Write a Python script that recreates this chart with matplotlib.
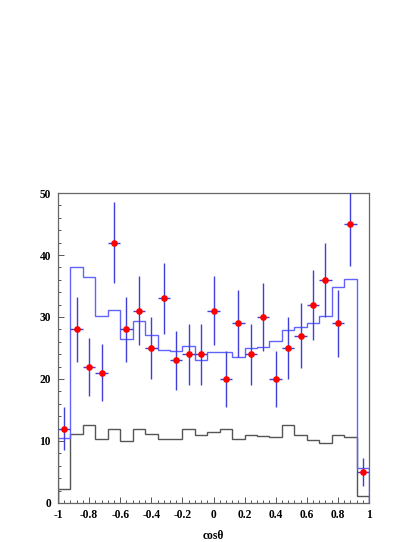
# -*- coding: utf-8 -*-

import numpy as np
import matplotlib
matplotlib.use('Agg')
import matplotlib.pyplot as plt
from matplotlib.ticker import MultipleLocator


# 25 bins of cos(theta) between -1 and 1
EDGES = np.linspace(-1.0, 1.0, 26)

# observed counts (red points)
DATA = [12, 28, 22, 21, 42, 28, 31, 25, 33, 23, 24, 24, 31,
        20, 29, 24, 30, 20, 25, 27, 32, 36, 29, 45, 5]

# blue histogram (total expectation)
MC_TOTAL = [10.5, 38.1, 36.4, 30.1, 31.1, 26.5, 29.4, 27.1, 24.7, 24.5,
            25.4, 23.1, 24.4, 24.4, 23.5, 25.0, 25.1, 26.1, 27.9, 28.4,
            29.1, 30.1, 34.9, 36.1, 5.7]

# grey histogram (background)
MC_BKG = [2.3, 11.2, 12.5, 10.3, 11.9, 9.95, 12.0, 11.1, 10.4, 10.3,
          11.9, 11.0, 11.4, 12.0, 10.3, 10.9, 10.8, 10.7, 12.5, 10.9,
          10.1, 9.6, 10.9, 10.6, 1.1]

X_TICKS = [-1, -0.8, -0.6, -0.4, -0.2, 0, 0.2, 0.4, 0.6, 0.8, 1]
X_TICK_LABELS = ['-1', '-0.8', '-0.6', '-0.4', '-0.2', '0',
                 '0.2', '0.4', '0.6', '0.8', '1']


def show_graph():
    fig = plt.figure(figsize=(4.19, 5.42), dpi=100)
    ax = fig.add_axes([0.1384, 0.0720, 0.7423, 0.5719])

    ax.stairs(MC_BKG, EDGES, baseline=0, color='#555555', lw=1.0)
    ax.stairs(MC_TOTAL, EDGES, baseline=0, color='#6262ff', lw=1.0)

    centers = 0.5 * (EDGES[:-1] + EDGES[1:])
    half = 0.5 * (EDGES[1] - EDGES[0])
    counts = np.array(DATA, dtype=float)
    ax.errorbar(centers, counts, yerr=np.sqrt(counts), xerr=half,
                fmt='o', color='red', markersize=4.8, markeredgewidth=0,
                ecolor='#4040d8', elinewidth=1.0, capsize=0, zorder=3)

    ax.set_xlim(-1, 1)
    ax.set_ylim(0, 50)

    ax.set_xticks(X_TICKS)
    ax.set_xticklabels(X_TICK_LABELS)
    ax.xaxis.set_minor_locator(MultipleLocator(0.04))
    ax.set_yticks([0, 10, 20, 30, 40, 50])
    ax.yaxis.set_minor_locator(MultipleLocator(2))

    ax.tick_params(which='both', direction='in', top=False, right=False,
                   color='#555555', width=0.7)
    ax.tick_params(which='major', length=4.5, labelsize=8.3)
    ax.tick_params(axis='x', which='major', pad=4.5)
    ax.tick_params(axis='y', which='major', pad=5)
    ax.tick_params(which='minor', length=2.2)

    for lab in ax.get_xticklabels() + ax.get_yticklabels():
        lab.set_family('Liberation Serif')
        lab.set_weight('bold')

    for side in ['left', 'bottom', 'top', 'right']:
        ax.spines[side].set_color('#666666')
        ax.spines[side].set_linewidth(0.9)

    ax.set_xlabel(u'cos\u03b8', family='Liberation Serif', weight='bold',
                  fontsize=8.3, labelpad=6)

    fig.savefig('out.png', dpi=100)


show_graph()
